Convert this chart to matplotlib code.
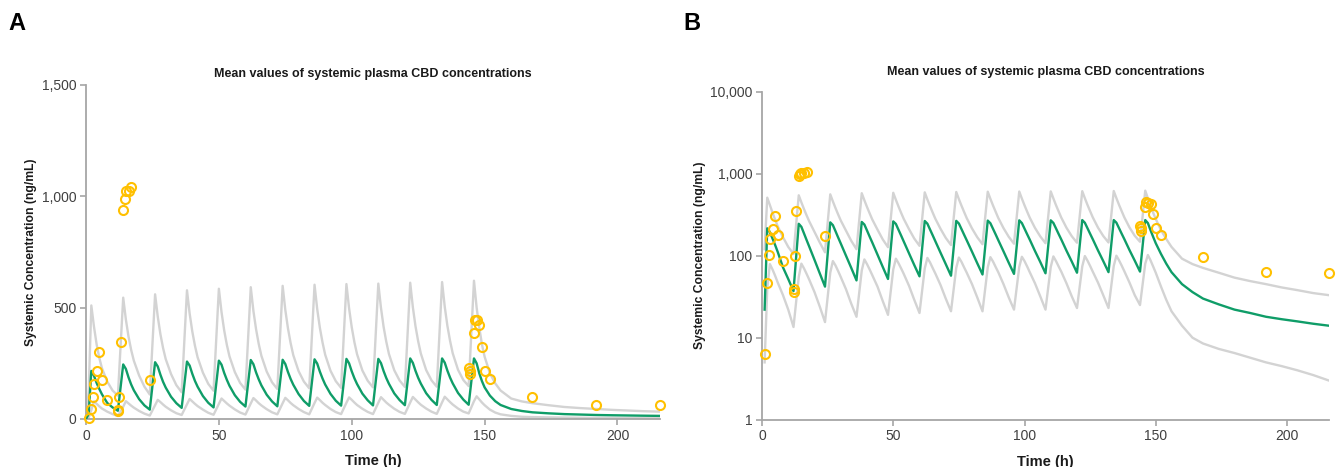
import matplotlib
matplotlib.use("Agg")
import matplotlib.pyplot as plt
import numpy as np
from matplotlib.ticker import FuncFormatter, FixedLocator, NullLocator

# ---------------- data ----------------
dose_interval = 12
cycle_offsets = [0, 2, 3, 4, 5, 6, 8, 10]
cycle0_times = [0, 1, 2, 3, 4, 5, 6, 8, 10]
tail_times = [156, 160, 164, 168, 174, 180, 186, 192, 198, 204, 210, 216]

# simulated mean (green), per dosing cycle
mean_cycles = [
    [0, 22, 216, 194, 162, 135, 111, 72, 52],
    [37, 245, 225, 187, 155, 129, 89, 61],
    [42, 255, 236, 199, 167, 141, 100, 71],
    [50, 258, 240, 203, 171, 145, 103, 73],
    [52, 262, 244, 207, 176, 149, 107, 77],
    [56, 265, 246, 209, 178, 151, 109, 79],
    [57, 266, 247, 211, 180, 154, 112, 81],
    [59, 268, 249, 213, 182, 155, 113, 82],
    [60, 270, 250, 214, 183, 157, 114, 84],
    [61, 270, 251, 215, 184, 158, 115, 85],
    [62, 272, 252, 216, 185, 159, 116, 86],
    [63, 272, 253, 217, 186, 160, 117, 87],
    [64, 272, 250, 205, 170, 142, 105, 80],
]
mean_tail = [63, 45, 36, 30, 25.5, 22, 20, 18, 16.8, 15.8, 14.8, 14]

# upper percentile (grey)
upper_cycles = [
    [0, 120, 510, 415, 335, 275, 228, 168, 128],
    [105, 545, 447, 370, 310, 262, 195, 145],
    [110, 560, 460, 381, 319, 269, 202, 152],
    [120, 578, 474, 393, 329, 277, 208, 158],
    [127, 585, 480, 398, 333, 281, 211, 162],
    [132, 592, 485, 403, 337, 284, 213, 165],
    [135, 598, 490, 407, 341, 287, 215, 168],
    [138, 603, 494, 410, 344, 289, 217, 170],
    [140, 606, 497, 412, 345, 291, 218, 172],
    [142, 608, 499, 413, 347, 292, 219, 173],
    [144, 612, 502, 416, 349, 294, 220, 174],
    [145, 615, 504, 418, 351, 295, 221, 175],
    [148, 621, 500, 410, 335, 280, 205, 160],
]
upper_tail = [128, 92, 79, 71, 62, 54, 49, 45, 41, 38, 35, 33]

# lower percentile (grey)
lower_cycles = [
    [0, 5, 40, 79, 68, 57, 47, 33, 22],
    [13.5, 55, 80, 70, 60, 51, 36, 24],
    [15.5, 62, 86, 76, 65, 55, 39, 26],
    [18, 66, 90, 79, 68, 58, 42, 28],
    [19, 68, 92, 81, 70, 60, 43, 29],
    [20, 70, 94, 83, 71, 61, 44, 30],
    [21, 71, 95, 84, 72, 62, 45, 31],
    [21, 72, 96, 85, 73, 63, 45, 31],
    [22, 73, 97, 86, 74, 63, 46, 32],
    [22, 73, 98, 86, 74, 64, 46, 32],
    [23, 74, 99, 87, 75, 64, 47, 33],
    [23, 75, 100, 88, 76, 65, 47, 33],
    [25, 80, 102, 88, 74, 62, 42, 29],
]
lower_tail = [21, 14, 10, 8.5, 7.3, 6.5, 5.7, 5.0, 4.5, 4.0, 3.5, 3.0]

# observed mean concentrations (orange circles)
obs_time = [1, 2, 2.5, 3, 4, 5, 6, 8, 12, 12, 12.5, 13, 14, 14.5, 15, 16, 17, 24,
            144, 144.5, 144.5, 146, 146.25, 147, 148, 149, 150, 152, 168, 192, 216]
obs_conc = [6.3, 46, 101, 159, 214, 302, 177, 87, 36, 39, 98, 348, 937, 988, 1023,
            1023, 1044, 174, 228, 216, 202, 388, 446, 445, 422, 325, 215, 180, 97, 64, 61]

title_text = "Mean values of systemic plasma CBD concentrations"
ylabel_text = "Systemic Concentration (ng/mL)"
xlabel_text = "Time (h)"
x_ticks = [0, 50, 100, 150, 200]
lin_ticks = [0, 500, 1000, 1500]
log_ticks = [1, 10, 100, 1000, 10000]

# ---------------- build series ----------------
sim_time = list(cycle0_times)
for k in range(1, len(mean_cycles)):
    sim_time += [dose_interval * k + o for o in cycle_offsets]
sim_time += tail_times


def flatten(cycles, tail):
    out = []
    for c in cycles:
        out += c
    return out + tail


mean_vals = flatten(mean_cycles, mean_tail)
upper_vals = flatten(upper_cycles, upper_tail)
lower_vals = flatten(lower_cycles, lower_tail)

# ---------------- styling ----------------
GREEN = "#0f9d68"
GREY = "#d3d3d3"
ORANGE = "#FFC000"
AXC = "#a6a6a6"
TXT = "#404040"
narrow = ["Liberation Sans Narrow", "Liberation Sans", "DejaVu Sans"]
plt.rcParams["font.family"] = ["Liberation Sans", "DejaVu Sans"]

fig = plt.figure(figsize=(13.44, 4.67), dpi=100)
axA = fig.add_axes([86 / 1344, 48 / 467, 574 / 1344, 334 / 467])
axB = fig.add_axes([762 / 1344, 47.3 / 467, 567 / 1344, 328 / 467])

comma = FuncFormatter(lambda v, p: f"{int(round(v)):,}")


def for_log(vals):
    a = np.asarray(vals, dtype=float)
    return np.ma.masked_less_equal(a, 0)


for ax, logy in ((axA, False), (axB, True)):
    up = for_log(upper_vals) if logy else upper_vals
    lo = for_log(lower_vals) if logy else lower_vals
    me = for_log(mean_vals) if logy else mean_vals
    ax.plot(sim_time, up, color=GREY, lw=1.7, zorder=2)
    ax.plot(sim_time, lo, color=GREY, lw=1.7, zorder=2)
    ax.plot(sim_time, me, color=GREEN, lw=1.7, zorder=3)
    ax.plot(obs_time, obs_conc, linestyle="none", marker="o", markersize=6.5,
            markerfacecolor="none", markeredgecolor=ORANGE, markeredgewidth=1.5,
            zorder=4, clip_on=False)
    ax.set_xlim(0, 216)
    ax.xaxis.set_major_locator(FixedLocator(x_ticks))
    if logy:
        ax.set_yscale("log", nonpositive="mask")
        ax.set_ylim(1, 10000)
        ax.yaxis.set_major_locator(FixedLocator(log_ticks))
        ax.yaxis.set_minor_locator(NullLocator())
    else:
        ax.set_ylim(0, 1500)
        ax.yaxis.set_major_locator(FixedLocator(lin_ticks))
    ax.yaxis.set_major_formatter(comma)
    for s in ("top", "right"):
        ax.spines[s].set_visible(False)
    for s in ("left", "bottom"):
        ax.spines[s].set_color(AXC)
        ax.spines[s].set_linewidth(1.3)
    ax.tick_params(axis="both", direction="out", length=4, width=1.2, color=AXC,
                   labelsize=10, labelcolor=TXT, pad=3)
    ax.set_xlabel(xlabel_text, fontsize=10.5, fontweight="bold", color="#1a1a1a",
                  family=narrow, labelpad=8)
    ax.set_ylabel(ylabel_text, fontsize=8.7, fontweight="bold", color="#1a1a1a",
                  labelpad=3)

axA.set_title(title_text, fontsize=9, fontweight="bold", color="#1a1a1a",
              family=narrow, pad=6)
axB.set_title(title_text, fontsize=9, fontweight="bold", color="#1a1a1a",
              family=narrow, pad=12)

fig.text(8 / 1344, 1 - 24 / 467, "A", fontsize=17, fontweight="bold", va="center",
         ha="left", color="black")
fig.text(683 / 1344, 1 - 24 / 467, "B", fontsize=17, fontweight="bold", va="center",
         ha="left", color="black")

fig.savefig("out.png", dpi=100, facecolor="white")
